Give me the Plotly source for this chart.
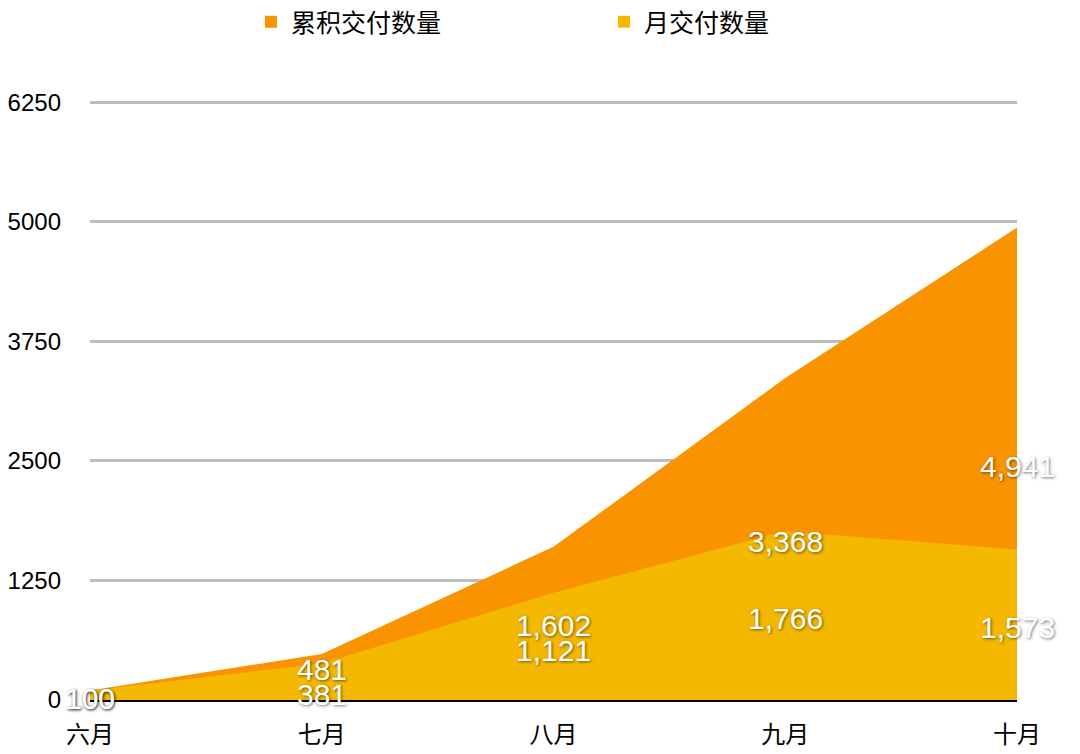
import plotly.graph_objects as go

# 数据
months = ["六月", "七月", "八月", "九月", "十月"]
cumulative = [100, 481, 1602, 3368, 4941]
monthly = [100, 381, 1121, 1766, 1573]
y_ticks = [0, 1250, 2500, 3750, 5000, 6250]

ORANGE = "#FA9300"
YELLOW = "#F4B800"
FONT = "Liberation Sans, Noto Sans CJK SC, sans-serif"
Y_MAX = 6265
W, H = 1072, 746  # 页面 body 自带 8px 边距

fig = go.Figure()

# 面积图（不堆叠，月交付覆盖在累积之上）
fig.add_trace(go.Scatter(x=months, y=cumulative, mode="lines", fill="tozeroy",
                         line=dict(width=0, color=ORANGE), fillcolor=ORANGE,
                         showlegend=False, hoverinfo="skip"))
fig.add_trace(go.Scatter(x=months, y=monthly, mode="lines", fill="tozeroy",
                         line=dict(width=0, color=YELLOW), fillcolor=YELLOW,
                         showlegend=False, hoverinfo="skip"))

# 图例用的方块
fig.add_trace(go.Scatter(x=[None], y=[None], mode="markers", name="累积交付数量",
                         marker=dict(symbol="square", size=12, color=ORANGE)))
fig.add_trace(go.Scatter(x=[None], y=[None], mode="markers", name="月交付数量",
                         marker=dict(symbol="square", size=12, color=YELLOW)))

# 数据标签（放在高度的一半，重叠时上下错开）
shadow = "1px 1px 3px rgba(0,0,0,0.55)"
px_per_unit = 599 / Y_MAX
for series, push in ((cumulative, -1), (monthly, 1)):
    for i, (m, v) in enumerate(zip(months, series)):
        other = monthly[i] if push == -1 else cumulative[i]
        gap = abs(v - other) / 2 * px_per_unit
        shift = -3
        if 0 < gap < 25:
            shift += -push * (25 - gap) / 2
        fig.add_annotation(x=m, y=v / 2, text=f"{v:,}", showarrow=False,
                           yshift=shift,
                           font=dict(size=30, color="white", family=FONT, shadow=shadow))

fig.update_layout(
    width=W, height=H,
    margin=dict(l=82, r=63, t=93, b=54, autoexpand=False),
    plot_bgcolor="white", paper_bgcolor="white",
    font=dict(family=FONT, color="black", size=24),
    legend=dict(orientation="h", xref="container", yref="container",
                x=243 / W, y=1 - 14 / H, xanchor="left", yanchor="middle",
                entrywidth=308, font=dict(size=25)),
)
fig.update_xaxes(range=[0, 4], showgrid=False, showline=False, zeroline=False,
                 automargin=False, ticks="", ticklabelstandoff=18,
                 tickfont=dict(size=24))
fig.update_yaxes(range=[0, Y_MAX], tickvals=y_ticks, ticktext=[str(t) for t in y_ticks],
                 showgrid=True, gridcolor="#BDBDBD", gridwidth=3,
                 zeroline=True, zerolinecolor="black", zerolinewidth=3,
                 showline=False, automargin=False, ticks="", ticklabelstandoff=28,
                 tickfont=dict(size=24))

fig.write_html("out.html")
